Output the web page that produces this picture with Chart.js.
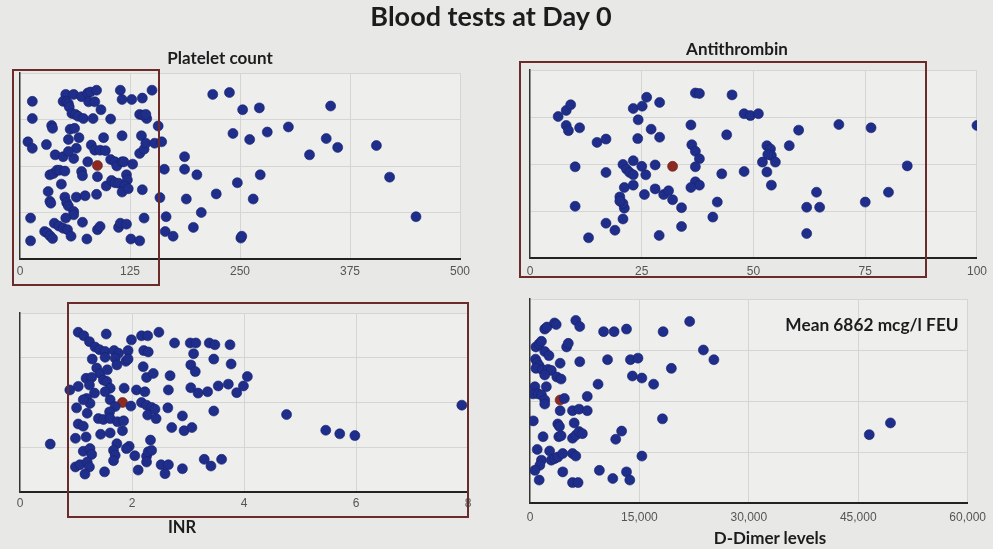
<!DOCTYPE html>
<html>
<head>
<meta charset="utf-8">
<title>Blood tests at Day 0</title>
<script src="https://cdn.jsdelivr.net/npm/chart.js@4"></script>
<style>
  body { margin: 0; width: 993px; height: 549px; overflow: hidden; background: #e8e8e6; font-family: Lato, "Noto Sans", sans-serif; position: relative; }
  canvas { position: absolute; left: 0; top: 0; }
  .t { position: absolute; font-weight: bold; color: #1c1c1c; white-space: nowrap; transform: translate(-50%, -50%); }
  .box { position: absolute; border: 2px solid #6c2b2b; box-sizing: border-box; }
</style>
</head>
<body>
<canvas id="c_platelet" width="993" height="549"></canvas>
<canvas id="c_at" width="993" height="549"></canvas>
<canvas id="c_inr" width="993" height="549"></canvas>
<canvas id="c_dd" width="993" height="549"></canvas>

<div class="box" style="left:12px;top:69px;width:148px;height:217px"></div>
<div class="box" style="left:519px;top:61px;width:408px;height:217px"></div>
<div class="box" style="left:67px;top:302px;width:402px;height:216px"></div>

<div class="t" style="left:491px;top:15px;font-size:27px">Blood tests at Day 0</div>
<div class="t" style="left:220px;top:57px;font-size:17px">Platelet count</div>
<div class="t" style="left:737px;top:48px;font-size:17px">Antithrombin</div>
<div class="t" style="left:182px;top:527px;font-size:16.5px">INR</div>
<div class="t" style="left:770px;top:537px;font-size:17px">D-Dimer levels</div>
<div class="t" style="left:872px;top:324px;font-size:17.3px">Mean 6862 mcg/l FEU</div>

<script>
// x ticks
var plateletTicks = [0, 125, 250, 375, 500];
var atTicks = [0, 25, 50, 75, 100];
var inrTicks = [0, 2, 4, 6, 8];
var ddTicks = [0, 15000, 30000, 45000, 60000];

// platelet count (x) and vertical jitter (y)
var plateletX = [14,14,9,14,12,12,52,61,49,53, 55,56,59,63,66,72,83,70,77,80,
  87,78,85,92,103,114,116,127,139,150, 136,140,144,143,36,37,57,62,55,67,
  30,40,49,61,64,55,81,85,91,97, 95,116,138,136,141,143,153,161,157,77,
  88,103,108,110,116,118,128,34,38,42, 45,51,70,71,47,98,104,108,112,121,
  122,119,116,123,139,32,34,35,51,53, 55,64,74,87,159,61,61,52,71,39,
  44,49,54,88,91,112,114,121,141,28, 31,34,37,58,76,126,136,165,174,166,
  187,187,164,201,189,206,197,223,219,238, 253,272,242,261,281,305,329,348,361,353,
  405,420,450,247,273,265,251,252];
var plateletY = [3.39,3.02,2.52,2.38,0.88,0.39,3.54,3.54,3.39,3.38, 3.34,3.27,3.13,3.11,3.07,3.02,3.02,3.49,3.57,3.59,
  3.63,3.38,3.38,3.21,3.01,3.63,3.43,3.43,3.46,3.63, 3.11,3.09,3.02,3.11,2.87,2.81,2.79,2.81,2.57,2.61,
  2.46,2.24,2.2,2.16,2.38,2.31,2.45,2.34,2.34,2.33, 2.61,2.65,2.65,2.27,2.36,2.49,2.49,2.52,2.86,2.09,
  1.77,2.14,2.09,2.0,2.09,2.09,2.04,1.81,1.84,1.91, 1.91,1.89,1.88,1.79,1.61,1.57,1.69,1.64,1.63,1.81,
  1.7,1.57,1.44,1.51,1.49,1.45,1.24,1.2,1.33,1.21, 1.14,1.33,1.36,1.39,1.32,1.02,0.95,0.88,0.79,0.77,
  0.71,0.66,0.63,0.63,0.7,0.68,0.77,0.75,0.88,0.59, 0.56,0.5,0.44,0.49,0.43,0.43,0.39,0.59,0.49,0.91,
  2.2,1.93,1.93,1.81,1.29,1.0,0.68,1.4,3.54,3.58, 3.21,3.25,2.7,2.57,2.73,2.84,2.24,2.59,2.4,3.29,
  2.44,1.76,0.91,1.64,1.81,1.29,0.45,0.49];
var plateletMean = [88, 2.01];

// antithrombin
var atX = [6.3,8.1,9.1,8.1,8.6,11.1,10.1,10.1,15.0,17.0,
  17.0,17.0,19.0,13.1,20.8,21.1,20.8,20.1,20.1,21.1,
  20.8,21.6,22.3,23.1,23.1,23.1,23.1,25.1,26.1,29.0,
  24.2,27.1,29.0,24.1,25.0,25.9,28.0,28.0,25.6,29.9,
  31.0,31.9,33.9,33.9,28.9,36.0,36.2,37.0,37.9,37.0,
  37.0,37.9,36.0,37.0,37.9,44.0,45.2,40.9,41.9,42.9,
  47.9,47.9,49.3,51.1,52.0,53.0,53.0,53.8,54.0,53.2,
  54.9,54.0,58.0,60.1,61.9,61.9,64.1,64.8,69.1,75.0,
  76.3,80.2,84.4,100];
var atY = [3.01,3.14,3.26,2.82,2.71,2.77,1.94,1.1,2.46,2.53,
  1.82,0.74,0.59,0.43,0.83,1.06,1.16,1.3,1.21,1.5,
  1.99,1.89,1.82,1.77,2.07,1.55,3.18,3.23,3.42,3.31,
  2.94,2.74,2.57,2.54,1.95,1.77,1.98,1.47,1.35,1.35,
  1.43,1.24,1.07,0.67,0.48,2.83,2.41,2.27,2.11,1.94,
  1.62,1.55,1.5,3.51,3.5,2.62,3.47,0.87,1.19,1.79,
  1.84,3.07,3.03,3.07,2.04,2.39,1.83,2.32,2.18,2.2,
  2.04,1.55,2.39,2.72,1.08,0.52,1.4,1.08,2.84,1.19,
  2.77,1.4,1.96,2.82];
var atMean = [31.9, 1.95];

// INR
var inrX = [1.04,1.14,1.24,1.54,1.99,2.17,2.28,2.48,2.76,3.04,
  3.14,3.38,3.48,3.75,1.34,1.42,1.52,1.68,1.76,1.93,
  2.21,2.29,3.10,1.29,1.52,1.70,1.73,1.89,1.93,2.20,
  3.46,3.05,3.13,3.77,1.37,1.43,1.56,1.18,1.28,1.24,
  1.49,1.55,1.61,1.52,0.89,1.04,1.86,2.08,2.23,2.26,
  2.38,2.68,2.65,3.05,3.18,3.35,3.54,3.72,3.87,3.99,
  4.06,1.19,1.25,1.13,1.33,1.61,1.70,1.98,2.17,2.26,
  2.35,2.41,2.64,1.01,1.20,1.40,1.49,1.60,1.61,1.74,
  1.85,1.83,2.28,2.43,2.90,2.71,2.93,3.07,3.46,1.04,
  1.13,0.99,1.18,1.44,1.61,1.73,1.95,1.90,2.33,1.13,
  1.25,1.28,1.67,1.70,1.67,2.05,2.26,2.29,2.35,2.26,
  0.99,1.07,1.20,1.24,1.16,1.51,2.11,2.52,2.65,2.59,
  2.90,3.29,3.41,3.60,0.54,4.76,5.46,5.71,5.98,7.89];
var inrY = [3.57,3.49,3.36,3.53,3.40,3.49,3.49,3.57,3.33,3.33,
  3.33,3.33,3.29,3.29,3.24,3.18,3.14,3.16,3.10,3.16,
  3.16,3.13,3.09,2.97,3.01,2.99,2.84,2.92,2.97,2.80,
  2.97,2.84,2.69,2.86,2.77,2.65,2.73,2.54,2.56,2.39,
  2.50,2.47,2.32,2.24,2.28,2.36,2.32,2.28,2.24,2.56,
  2.65,2.60,2.28,2.33,2.21,2.24,2.37,2.41,2.22,2.37,
  2.58,2.09,1.98,2.06,2.21,2.06,1.91,1.92,2.00,1.94,
  1.89,1.85,1.88,1.88,1.76,1.64,1.62,1.79,1.64,1.57,
  1.59,1.37,1.72,1.64,1.70,1.44,1.37,1.44,1.81,1.52,
  1.47,1.20,1.23,1.29,1.32,1.08,1.02,0.97,1.16,0.91,
  0.97,0.84,0.93,0.82,0.70,0.81,0.80,0.90,0.93,0.67,
  0.56,0.61,0.67,0.56,0.40,0.45,0.49,0.61,0.61,0.41,
  0.52,0.73,0.58,0.73,1.07,1.73,1.38,1.30,1.26,1.94];
var inrMean = [1.83, 2.0];

// D-Dimer
var ddX = [2020,2330,3360,3590,6280,6820,10090,11530,13230,18250,
  21890,810,1260,1570,5020,5250,23770,25210,2020,2600,
  760,990,1260,810,1700,2470,2920,2020,4130,6820,
  10630,13770,14800,19380,3680,4260,14040,15340,16950,9330,
  670,2240,450,1120,1570,2020,2020,4710,7850,4130,
  5830,6730,7850,450,3810,4040,6060,18160,1790,3950,
  4260,5830,6280,6730,7180,11750,12560,46510,49420,990,
  1570,1350,670,2690,2920,3360,3810,4490,5830,6280,
  15340,4490,9510,11350,13230,13680,1260,5830,6590];
var ddY = [3.41,3.45,3.53,3.50,3.58,3.46,3.36,3.36,3.41,3.36,
  3.56,3.06,3.12,3.17,3.06,3.13,3.00,2.81,2.97,2.89,
  2.82,2.75,2.69,2.64,2.61,2.62,2.60,2.51,2.74,2.77,
  2.81,2.81,2.84,2.64,2.47,2.43,2.49,2.45,2.33,2.33,
  2.28,2.28,2.14,2.14,2.12,2.02,1.94,2.05,2.09,1.81,
  1.81,1.84,1.81,1.61,1.55,1.50,1.57,1.65,1.30,1.30,
  1.32,1.27,1.33,1.40,1.36,1.25,1.41,1.34,1.57,1.05,
  0.84,0.74,0.64,1.02,0.84,0.87,0.90,0.97,0.97,0.92,
  0.92,0.61,0.64,0.48,0.61,0.45,0.45,0.40,0.40];
var ddMean = [4130, 2.02];

var bgPlugin = {
  id: 'plotbg',
  beforeDraw: function (chart) {
    var a = chart.chartArea, c = chart.ctx;
    c.save();
    c.fillStyle = '#eeeeec';
    c.fillRect(a.left, a.top, a.right - a.left, a.bottom - a.top);
    c.restore();
  }
};

function gridColor(ctx) {
  return ctx.tick && ctx.tick.value === 0 ? 'rgba(0,0,0,0)' : '#d5d5d3';
}

// area = [left, top, right, bottom] of the plot in page pixels
function drawPanel(id, xs, ys, mean, ticks, area, tickPad, fmt) {
  var pts = xs.map(function (x, i) { return { x: x, y: ys[i] }; });
  var ctx = document.getElementById(id);
  return new Chart(ctx, {
    type: 'scatter',
    data: {
      datasets: [
        { data: pts, backgroundColor: '#1f2e8b', borderColor: '#17226c', borderWidth: 0.6, pointRadius: 5, pointHoverRadius: 5 },
        { data: [{ x: mean[0], y: mean[1] }], backgroundColor: '#8a2a22', borderColor: '#6a1d18', borderWidth: 0.6, pointRadius: 5 }
      ]
    },
    options: {
      responsive: false,
      animation: false,
      events: [],
      layout: { padding: { left: area[0], top: area[1], right: 993 - area[2], bottom: 549 - area[3] - 30 } },
      plugins: { legend: { display: false }, tooltip: { enabled: false } },
      scales: {
        x: {
          type: 'linear',
          min: ticks[0],
          max: ticks[ticks.length - 1],
          afterBuildTicks: function (s) { s.ticks = ticks.map(function (v) { return { value: v }; }); },
          afterFit: function (s) { s.height = 30; },
          grid: { color: gridColor, drawTicks: false },
          border: { color: '#222', width: 2 },
          ticks: { color: '#555', font: { family: 'Liberation Sans', size: 12 }, padding: tickPad, maxRotation: 0, callback: fmt }
        },
        y: {
          min: 0,
          max: 4,
          afterFit: function (s) { s.width = 0; },
          ticks: { display: false, stepSize: 1 },
          grid: { color: gridColor, drawTicks: false },
          border: { color: '#333', width: 1.5 }
        }
      }
    },
    plugins: [bgPlugin]
  });
}

function plain(v) { return String(v); }
function commas(v) { return v.toLocaleString('en-US'); }

drawPanel('c_platelet', plateletX, plateletY, plateletMean, plateletTicks, [20, 73, 460, 259], 5, plain);
drawPanel('c_at', atX, atY, atMean, atTicks, [530, 70, 981, 258], 6, plain);
drawPanel('c_inr', inrX, inrY, inrMean, inrTicks, [20, 313, 468, 492], 4, plain);
drawPanel('c_dd', ddX, ddY, ddMean, ddTicks, [530, 299, 976, 503], 7, commas);
</script>
</body>
</html>
